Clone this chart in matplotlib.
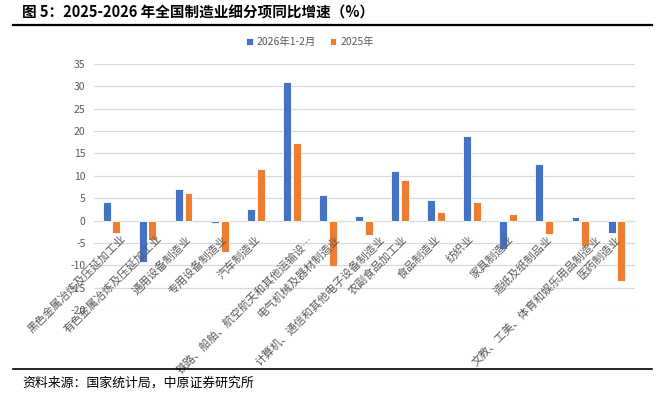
import matplotlib
matplotlib.use("Agg")
import matplotlib.pyplot as plt
import matplotlib.transforms as mtransforms
import numpy as np

plt.rcParams['font.family'] = ['Noto Sans CJK SC', 'DejaVu Sans']

categories = [
    "黑色金属冶炼及压延加工业",
    "有色金属冶炼及压延加工业",
    "通用设备制造业",
    "专用设备制造业",
    "汽车制造业",
    "铁路、船舶、航空航天和其他运输设…",
    "电气机械及器材制造业",
    "计算机、通信和其他电子设备制造业",
    "农副食品加工业",
    "食品制造业",
    "纺织业",
    "家具制造业",
    "造纸及纸制品业",
    "文教、工美、体育和娱乐用品制造业",
    "医药制造业",
]
series_2026 = [4.1, -9.2, 7.0, -0.5, 2.5, 30.9, 5.7, 1.0, 11.1, 4.5, 18.8, -6.3, 12.6, 0.9, -2.8]
series_2025 = [-2.7, -4.3, 6.1, -7.1, 11.5, 17.3, -10.2, -3.2, 9.1, 2.0, 4.1, 1.5, -3.0, -5.6, -13.5]
label_2026 = "2026年1-2月"
label_2025 = "2025年"
yticks = list(range(-20, 40, 5))

title = "图 5：2025-2026 年全国制造业细分项同比增速（%）"
source = "资料来源：国家统计局，中原证券研究所"

BLUE = "#4472C4"
ORANGE = "#ED7D31"
GRAY = "#595959"
GRID = "#D9D9D9"

fig = plt.figure(figsize=(6.63, 3.94), dpi=100)
ax = fig.add_axes([94/663, 1-310/394, 541/663, 246/394])

x = np.arange(len(categories))
w = 0.22
b1 = ax.bar(x - 0.15, series_2026, width=w, color=BLUE, edgecolor="white", linewidth=0.6, label=label_2026, zorder=3)
b2 = ax.bar(x + 0.12, series_2025, width=w, color=ORANGE, edgecolor="white", linewidth=0.6, label=label_2025, zorder=3)

ax.set_xlim(-0.5, len(categories) - 0.5)
ax.set_ylim(-20, 35)
ax.set_yticks(yticks)
ax.set_yticklabels([str(v) for v in yticks], fontsize=7.5, color=GRAY)
ax.tick_params(axis='y', length=0, pad=6)
ax.set_xticks([])
for s in ax.spines.values():
    s.set_visible(False)
ax.grid(axis='y', color=GRID, linewidth=0.9, zorder=0)
ax.set_axisbelow(True)

# category labels below the zero line, rotated 45 degrees
for i, lab in enumerate(categories):
    n = len(lab)
    dx = (1.45 * n - 5) / 100.0
    off = mtransforms.ScaledTranslation(dx, -17/100.0, fig.dpi_scale_trans)
    ax.text(i, 0, lab, rotation=45, rotation_mode='anchor', ha='right', va='center',
            fontsize=8, color=GRAY, transform=ax.transData + off, zorder=4)

# legend
leg = fig.legend(handles=[b1, b2], labels=[label_2026, label_2025], loc='center',
                 bbox_to_anchor=(310/663, 1-42/394), ncol=2, frameon=False,
                 fontsize=7.5, handlelength=0.6, handleheight=0.6, handletextpad=0.4,
                 columnspacing=1.3, labelcolor=GRAY)

# title and rules
fig.text(22/663, 1-13/394, title, fontsize=10.5, fontweight='bold', ha='left', va='center', color='black')
fig.add_artist(plt.Line2D([13/663, 652/663], [1-25/394, 1-25/394], color='black', linewidth=1.6, transform=fig.transFigure))
fig.add_artist(plt.Line2D([13/663, 652/663], [1-369/394, 1-369/394], color='black', linewidth=1.2, transform=fig.transFigure))
fig.text(22/663, 1-383/394, source, fontsize=9.3, ha='left', va='center', color='black')

fig.savefig("out.png", dpi=100)
